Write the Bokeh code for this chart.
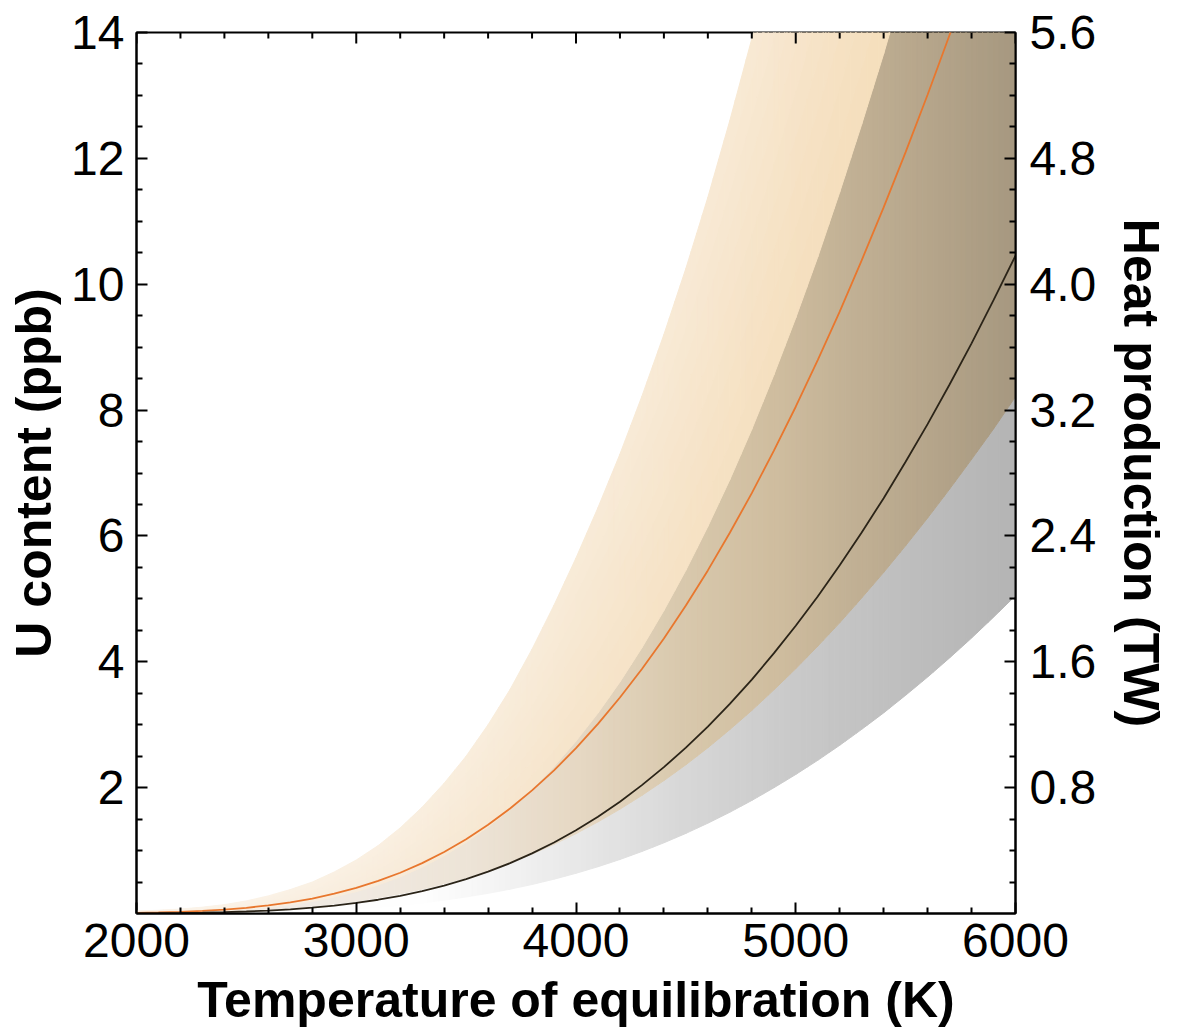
import numpy as np
from bokeh.plotting import figure
from bokeh.models import LinearAxis, Range1d, FixedTicker, PrintfTickFormatter
from bokeh.embed import file_html
from bokeh.resources import INLINE

# ---------------- data ----------------
temperature_K = [2000, 2100, 2200, 2300, 2400, 2500, 2600, 2700, 2800, 2900,
                 3000, 3100, 3200, 3300, 3400, 3500, 3600, 3700, 3800, 3900,
                 4000, 4100, 4200, 4300, 4400, 4500, 4600, 4700, 4800, 4900,
                 5000, 5100, 5200, 5300, 5400, 5500, 5600, 5700, 5800, 5900, 6000]

# orange curve (centre) and its band, U content in ppb
u_orange_mid = [0.010, 0.017, 0.027, 0.042, 0.063, 0.091, 0.129, 0.177, 0.238, 0.314,
                0.406, 0.517, 0.648, 0.801, 0.978, 1.181, 1.411, 1.669, 1.956, 2.275,
                2.627, 3.013, 3.432, 3.885, 4.371, 4.894, 5.452, 6.050, 6.680, 7.352,
                8.053, 8.794, 9.564, 10.38, 11.22, 12.10, 13.01, 13.96, 14.94, 15.94, 17.00]
u_orange_hi = [0.04, 0.05, 0.07, 0.10, 0.14, 0.20, 0.28, 0.38, 0.50, 0.66,
               0.85, 1.08, 1.36, 1.69, 2.07, 2.50, 3.00, 3.56, 4.20, 4.90,
               5.65, 6.45, 7.30, 8.22, 9.20, 10.25, 11.38, 12.60, 13.90, 15.25,
               16.67, 18.20, 19.80, 21.49, 23.23, 25.05, 26.93, 28.90, 30.93, 33.0, 35.2]
u_orange_lo = [0.0047, 0.0080, 0.0130, 0.0203, 0.0304, 0.0441, 0.0623, 0.0857, 0.1151, 0.1517,
               0.1961, 0.2497, 0.3130, 0.3870, 0.4725, 0.5705, 0.6816, 0.8063, 0.9449, 1.099,
               1.269, 1.456, 1.658, 1.877, 2.112, 2.364, 2.634, 2.923, 3.227, 3.552,
               3.890, 4.248, 4.620, 5.014, 5.420, 5.845, 6.285, 6.744, 7.217, 7.700, 8.213]

# black curve (centre) and its grey band
u_black_mid = [0.0027, 0.0048, 0.0083, 0.0135, 0.0212, 0.0321, 0.0470, 0.0669, 0.0929, 0.1260,
               0.1675, 0.2187, 0.2808, 0.3552, 0.4431, 0.5455, 0.6643, 0.8001, 0.9550, 1.1286,
               1.3231, 1.5388, 1.7771, 2.040, 2.3256, 2.635, 2.971, 3.330, 3.717, 4.133,
               4.572, 5.038, 5.534, 6.056, 6.600, 7.178, 7.776, 8.406, 9.061, 9.747, 10.454]
u_gray_hi = [0.0056, 0.0100, 0.0172, 0.0280, 0.0439, 0.0664, 0.0973, 0.1385, 0.1923, 0.2608,
             0.3467, 0.4527, 0.5813, 0.7353, 0.9172, 1.129, 1.375, 1.656, 1.977, 2.336,
             2.739, 3.185, 3.679, 4.223, 4.814, 5.454, 6.150, 6.893, 7.694, 8.555,
             9.464, 10.43, 11.46, 12.54, 13.66, 14.86, 16.10, 17.40, 18.76, 20.18, 21.64]
u_gray_lo = [0.0013, 0.0023, 0.0040, 0.0065, 0.0102, 0.0155, 0.0227, 0.0323, 0.0449, 0.0609,
             0.0809, 0.1057, 0.1357, 0.1716, 0.2141, 0.2635, 0.3209, 0.3865, 0.4614, 0.5452,
             0.6392, 0.7434, 0.8585, 0.9855, 1.1235, 1.273, 1.435, 1.609, 1.796, 1.997,
             2.209, 2.434, 2.673, 2.926, 3.188, 3.468, 3.757, 4.061, 4.377, 4.709, 5.050]

# axes
x_major = [2000, 3000, 4000, 5000, 6000]
x_minor = [t for t in range(2000, 6001, 200) if t % 1000]
y_major = [2, 4, 6, 8, 10, 12, 14]
y_minor = [v / 2 for v in range(1, 28) if v % 4]
heat_major = [0.8, 1.6, 2.4, 3.2, 4.0, 4.8, 5.6]
heat_minor = [round(v * 0.2, 1) for v in range(1, 28) if v % 4]
heat_per_ppb = 0.4  # TW per ppb (right axis scale)

Y_MIN, Y_MAX = 0, 14
X_MIN, X_MAX = 2000, 6000

# ---------------- styling helpers (colour ramps, purely cosmetic) ----------------
def ramp(stops_t, stops_rgb):
    stops_rgb = np.array(stops_rgb, dtype=float)
    def f(t):
        return np.array([np.interp(t, stops_t, stops_rgb[:, c]) for c in range(3)])
    return f

def hexcol(rgb):
    return "#%02x%02x%02x" % tuple(int(round(v)) for v in rgb)

# orange-only region: near its lower edge (f=0) and near its upper edge (f=1)
_or0 = ramp([2000, 3000, 4000, 5000, 6000],
            [(251, 243, 232), (248, 236, 220), (246, 228, 202), (245, 223, 190), (244, 221, 185)])
_or1 = ramp([2000, 3000, 4000, 4800, 6000],
            [(252, 245, 236), (250, 240, 226), (248, 235, 216), (248, 233, 212), (247, 231, 208)])
def orange_only_col(t, f):
    return hexcol(_or0(t) * (1 - f) + _or1(t) * f)

_ov = ramp([2000, 3000, 3500, 4000, 4500, 4900, 5300, 5700, 6000],
           [(243, 239, 234), (240, 233, 225), (237, 228, 215), (230, 216, 196), (216, 200, 172),
            (207, 189, 159), (192, 175, 147), (178, 162, 136), (166, 152, 128)])
def overlap_col(t, f):
    return hexcol(_ov(t))

_gr = ramp([2000, 3300, 3600, 4000, 4500, 5000, 5500, 6000],
           [(255, 255, 255), (254, 254, 254), (245, 245, 245), (232, 232, 232),
            (215, 215, 215), (201, 201, 201), (190, 190, 190), (180, 180, 180)])
def gray_only_col(t, f):
    return hexcol(_gr(t))

FONT = "Liberation Sans"

p = figure(width=1177, height=1032, x_range=Range1d(X_MIN, X_MAX), y_range=Range1d(Y_MIN, Y_MAX),
           output_backend="svg", toolbar_location=None,
           min_border_left=136, min_border_right=162, min_border_top=32, min_border_bottom=119)
p.extra_y_ranges = {"heat": Range1d(Y_MIN * heat_per_ppb, Y_MAX * heat_per_ppb)}
p.grid.visible = False
p.background_fill_color = "white"
p.border_fill_color = "white"
p.outline_line_color = "black"
p.outline_line_width = 2

# ---------------- bands: each region between two read edges, split into small
# pieces along its own straight edges only to paint a smooth colour gradient ----------------
T = temperature_K
regions = [
    (u_gray_lo, u_orange_lo, gray_only_col, 1),
    (u_orange_lo, u_gray_hi, overlap_col, 1),
    (u_gray_hi, u_orange_hi, orange_only_col, 10),
]
NSUB = 4

def lerp(a, b, s):
    return a + (b - a) * s

for lo, hi, colf, nlay in regions:
    xs_all, ys_all, cols = [], [], []
    for i in range(len(T) - 1):
        for k in range(NSUB):
            s0, s1 = k / NSUB, (k + 1) / NSUB
            ta, tb = lerp(T[i], T[i + 1], s0), lerp(T[i], T[i + 1], s1)
            loa, lob = lerp(lo[i], lo[i + 1], s0), lerp(lo[i], lo[i + 1], s1)
            hia, hib = lerp(hi[i], hi[i + 1], s0), lerp(hi[i], hi[i + 1], s1)
            for j in range(nlay):
                f0, f1 = j / nlay, (j + 1) / nlay
                xs_all.append([ta, tb, tb, ta])
                ys_all.append([lerp(loa, hia, f0), lerp(lob, hib, f0),
                               lerp(lob, hib, f1), lerp(loa, hia, f1)])
                cols.append(colf(0.5 * (ta + tb), 0.5 * (f0 + f1)))
    p.patches(xs=xs_all, ys=ys_all, fill_color=cols, line_color=cols, line_width=1)

p.line(T, u_orange_mid, line_color="#e8772e", line_width=1.8)
p.line(T, u_black_mid, line_color="#2b2418", line_width=1.8)

# ticks on the top edge (no labels there): short dashes clipped by the frame
p.scatter(x=x_major, y=[Y_MAX] * len(x_major), marker="dash", angle=np.pi / 2,
          size=22, line_color="black", line_width=2)
p.scatter(x=x_minor, y=[Y_MAX] * len(x_minor), marker="dash", angle=np.pi / 2,
          size=12, line_color="black", line_width=2)

# ---------------- axes ----------------
def style_axis(ax):
    ax.axis_line_width = 2
    ax.major_tick_line_width = 2
    ax.minor_tick_line_width = 2
    ax.major_tick_in = 11
    ax.major_tick_out = 0
    ax.minor_tick_in = 6
    ax.minor_tick_out = 0
    ax.major_label_text_font = FONT
    ax.major_label_text_font_size = "48px"
    ax.major_label_text_color = "black"
    ax.axis_label_text_font = FONT
    ax.axis_label_text_font_style = "bold"
    ax.axis_label_text_font_size = "50px"
    ax.axis_label_text_color = "black"
    ax.major_label_text_line_height = 1.0
    ax.axis_label_text_line_height = 1.0

xa = p.xaxis[0]
xa.ticker = FixedTicker(ticks=x_major, minor_ticks=x_minor)
xa.axis_label = "Temperature of equilibration (K)"
style_axis(xa)
xa.major_label_standoff = 10
xa.axis_label_standoff = 12

ya = p.yaxis[0]
ya.ticker = FixedTicker(ticks=y_major, minor_ticks=y_minor)
ya.axis_label = "U content (ppb)"
style_axis(ya)
ya.major_label_standoff = 12
ya.axis_label_standoff = 6

right = LinearAxis(y_range_name="heat", ticker=FixedTicker(ticks=heat_major, minor_ticks=heat_minor),
                   formatter=PrintfTickFormatter(format="%.1f"), axis_label="Heat production (TW)")
style_axis(right)
right.major_label_standoff = 14
right.axis_label_standoff = 14
p.add_layout(right, "right")

open("out.html", "w").write(file_html(p, INLINE))
